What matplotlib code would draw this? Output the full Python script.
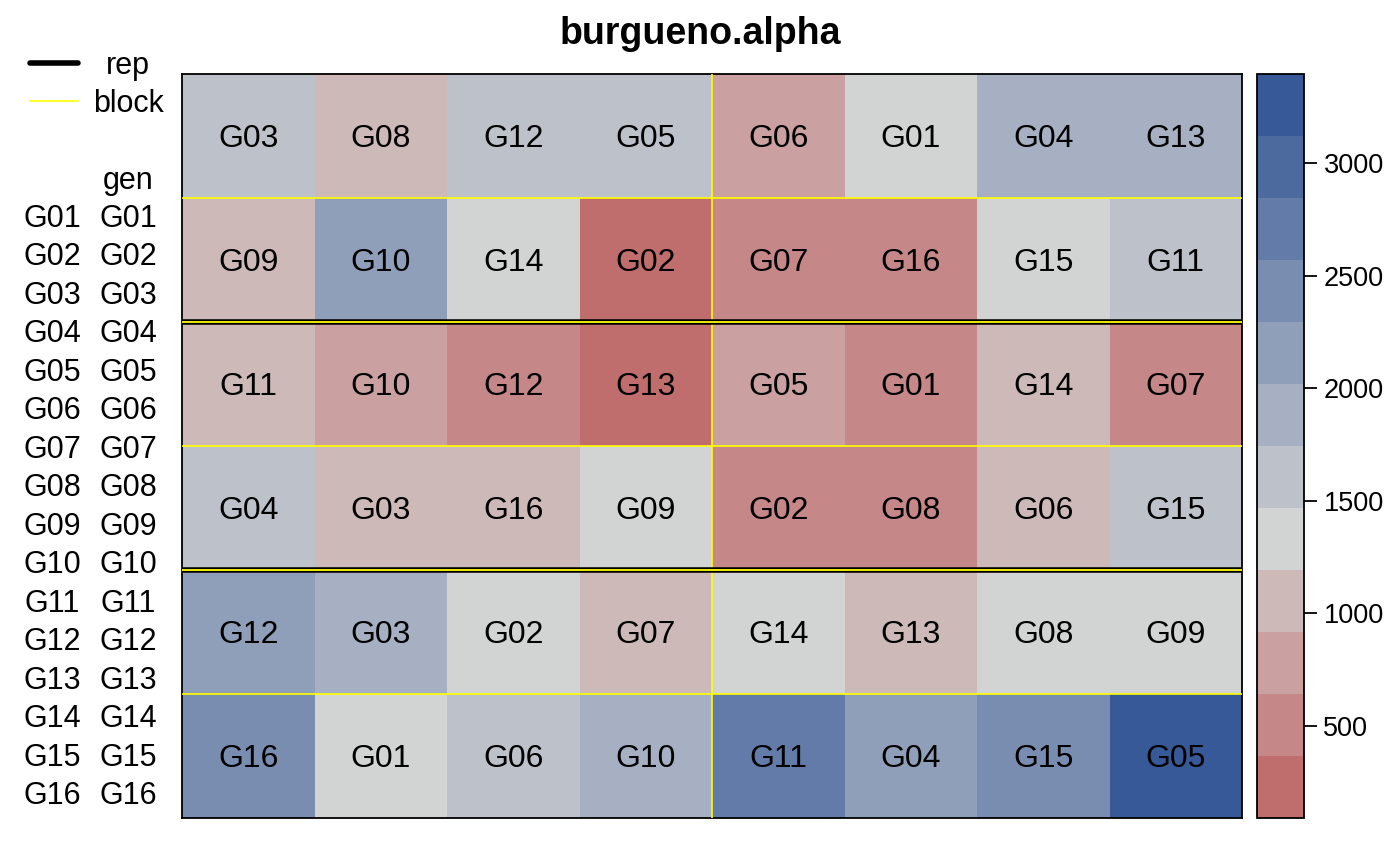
import numpy as np
import matplotlib
matplotlib.use("Agg")
import matplotlib.pyplot as plt
from matplotlib.colors import LinearSegmentedColormap, ListedColormap, BoundaryNorm

plt.rcParams['font.family'] = ['Liberation Sans', 'DejaVu Sans']

# ---- data (field layout, top row first) ----
gen_row1 = ["G03", "G08", "G12", "G05", "G06", "G01", "G04", "G13"]
gen_row2 = ["G09", "G10", "G14", "G02", "G07", "G16", "G15", "G11"]
gen_row3 = ["G11", "G10", "G12", "G13", "G05", "G01", "G14", "G07"]
gen_row4 = ["G04", "G03", "G16", "G09", "G02", "G08", "G06", "G15"]
gen_row5 = ["G12", "G03", "G02", "G07", "G14", "G13", "G08", "G09"]
gen_row6 = ["G16", "G01", "G06", "G10", "G11", "G04", "G15", "G05"]

yield_row1 = [1600, 1050, 1620, 1580, 800, 1350, 1900, 1880]
yield_row2 = [1000, 2150, 1300, 89, 520, 480, 1400, 1550]
yield_row3 = [1100, 780, 500, 180, 850, 560, 1020, 600]
yield_row4 = [1650, 1080, 1000, 1250, 450, 540, 1120, 1520]
yield_row5 = [2200, 1850, 1300, 1150, 1420, 1030, 1380, 1230]
yield_row6 = [2450, 1330, 1700, 1960, 2700, 2100, 2400, 3398]

genotypes = ["G%02d" % i for i in range(1, 17)]
cbar_ticks = [500, 1000, 1500, 2000, 2500, 3000]
title = "burgueno.alpha"

gens = [gen_row1, gen_row2, gen_row3, gen_row4, gen_row5, gen_row6]
vals = np.array([yield_row1, yield_row2, yield_row3, yield_row4, yield_row5, yield_row6], dtype=float)
nrow, ncol = vals.shape

# ---- colours: RedGrayBlue ramp, 15 colours, last 12 used ----
ramp = LinearSegmentedColormap.from_list("rgb", ["firebrick", "lightgray", "#375997"])
cols15 = [ramp(i / 14) for i in range(15)]
cmap = ListedColormap(cols15[3:])
bounds = np.linspace(vals.min(), vals.max(), 13)
norm = BoundaryNorm(bounds, cmap.N)

fig = plt.figure(figsize=(14, 8.66), dpi=100)
W, H = 1400, 866
def fx(px): return px / W
def fy(py): return 1 - py / H

FS = 22
DY = 3  # px downward shift for text centring

ax = fig.add_axes([fx(182), fy(818), fx(1242) - fx(182), fy(74) - fy(818)])
ax.pcolormesh(np.arange(ncol + 1), np.arange(nrow + 1), vals, cmap=cmap, norm=norm)
ax.set_xlim(0, ncol)
ax.set_ylim(nrow, 0)
ax.set_xticks([]); ax.set_yticks([])
for s in ax.spines.values():
    s.set_linewidth(1.3)

row_px = (818 - 74) / nrow
for r in range(nrow):
    for c in range(ncol):
        ax.text(c + 0.5, r + 0.5 + DY / row_px, gens[r][c], ha="center", va="center",
                fontsize=FS + 1, color="black")

# block lines (yellow)
for yb in [1, 3, 5]:
    ax.plot([0, ncol], [yb, yb], color="yellow", lw=1.2, zorder=3)
ax.plot([4, 4], [0, nrow], color="yellow", lw=1.2, zorder=3)
# rep lines (black, with yellow block edge on top)
for yr in [2, 4]:
    ax.plot([0, ncol], [yr, yr], color="black", lw=4.0, zorder=4, solid_capstyle="butt")
    ax.plot([0, ncol], [yr, yr], color="yellow", lw=1.3, zorder=5, solid_capstyle="butt")

# colorbar
cax = fig.add_axes([fx(1257), fy(818), fx(1304) - fx(1257), fy(74) - fy(818)])
cb = fig.colorbar(matplotlib.cm.ScalarMappable(norm=norm, cmap=cmap), cax=cax,
                  boundaries=bounds, spacing="proportional")
cb.set_ticks(cbar_ticks)
cb.minorticks_off()
cb.ax.tick_params(labelsize=19.5, length=9, width=1.3, direction="out", pad=5)
cb.outline.set_linewidth(1.3)

fig.text(fx(700), fy(31 + DY), title, ha="center", va="center", fontsize=27, fontweight="bold")

# left key
kx0, kx1 = fx(30), fx(78)
for yk, col, lw, lab in [(63, "black", 4, "rep"), (101, "yellow", 1.2, "block")]:
    fig.add_artist(plt.Line2D([kx0, kx1], [fy(yk), fy(yk)], color=col, lw=lw, solid_capstyle="round"))
    fig.text(fx(128), fy(yk + DY), lab, ha="center", va="center", fontsize=FS)
fig.text(fx(128), fy(178 + DY), "gen", ha="center", va="center", fontsize=FS)
for i, g in enumerate(genotypes):
    yy = 216 + i * (793 - 216) / 15 + DY
    fig.text(fx(52), fy(yy), g, ha="center", va="center", fontsize=FS)
    fig.text(fx(128), fy(yy), g, ha="center", va="center", fontsize=FS)

fig.savefig("out.png", dpi=100)
